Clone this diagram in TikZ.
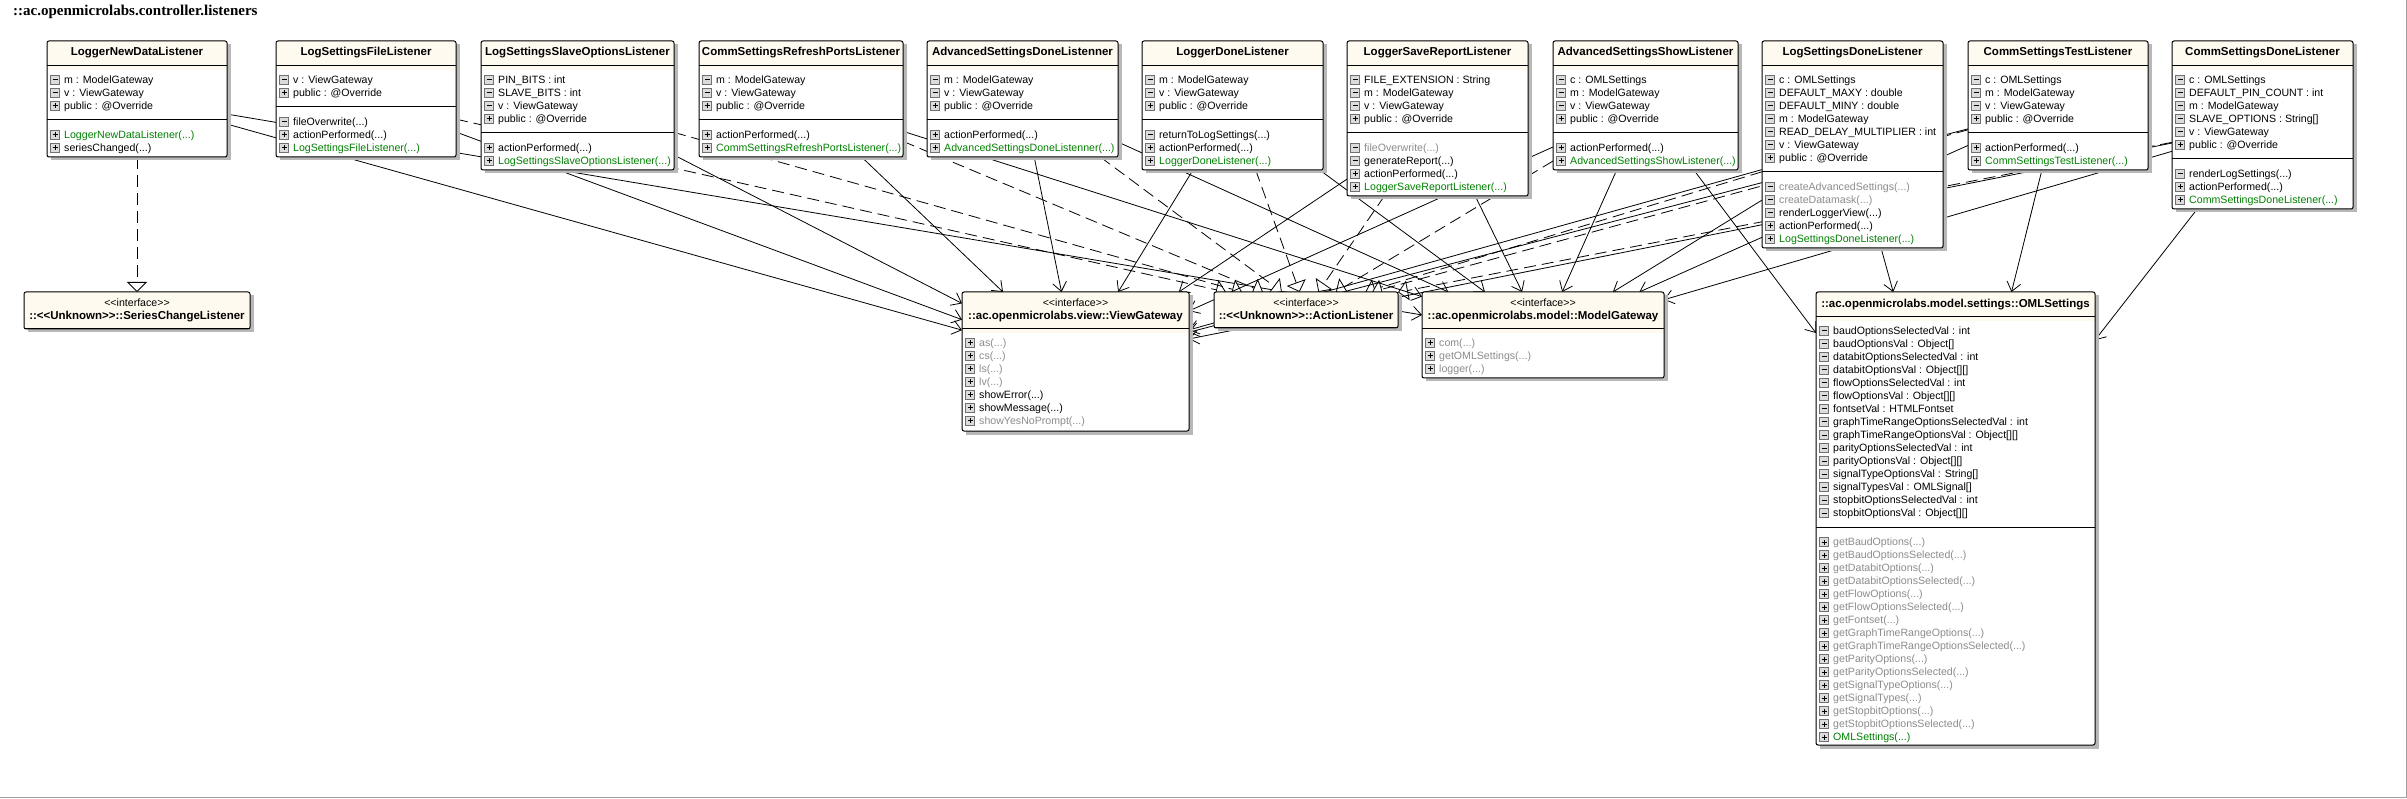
\documentclass[tikz,border=0pt]{standalone}
\usepackage{fontspec}
\setmainfont{Liberation Sans}
\newfontfamily\titlefam{Liberation Serif}
\usetikzlibrary{arrows.meta}
\pgfdeclarelayer{bg}
\pgfsetlayers{bg,main}
\definecolor{headc}{HTML}{FFFAEF}
\definecolor{shadowc}{HTML}{B8B8B8}
\definecolor{grn}{HTML}{008000}
\definecolor{gry}{HTML}{8C8C8C}
\definecolor{iconb}{HTML}{707070}
\definecolor{iconf}{HTML}{DCDCDC}
\definecolor{framec}{HTML}{A0A0A0}
\newcommand\dts{(...)}
\newcommand\intf{<{}<interface>{}>}
\newcommand\unk{<{}<Unknown>{}>}

\newcommand\cls[6]{% id x1 y1 x2 y2 div1
  \fill[shadowc] ({#2+3.5},{#3+3.5}) rectangle ({#4+3.5},{#5+3.5});
  \node[clsnode, minimum width=#4-#2, minimum height=#5-#3] (#1) at ({(#2+#4)/2},{(#3+#5)/2}) {};
  \fill[headc, rounded corners=2pt] (#2,#3) rectangle (#4,#6);
  \fill[headc] (#2,#6) rectangle (#4,{min(#6+4.5,#5)});
  \draw[line width=1pt] (#2,#6) -- (#4,#6);
  \draw[line width=1pt, rounded corners=2pt] (#2,#3) rectangle (#4,#5);
}
\newcommand\umlrow[5]{% x1 y type color text
  \draw[iconb, fill=iconf, line width=0.6pt] ({#1+3.5},{#2-4.5}) rectangle ({#1+12.5},{#2+4.5});
  \draw[line width=1pt] ({#1+5.5},{#2}) -- ({#1+10.5},{#2});
  \if p#3 \draw[line width=1pt] ({#1+8},{#2-2.5}) -- ({#1+8},{#2+2.5});\fi
  \node[bd, anchor=base west, text=#4] at ({#1+17},{#2+3.8}) {#5};
}
\newcommand\umlclass[8]{% id x1 x2 div2 bottom name attrs methods
  \cls{#1}{#2}{41}{#3}{#5}{65.5}
  \node[hd, anchor=base] at ({(#2+#3)/2},56) {#6};
  \foreach \ty/\co/\tx [count=\i from 0] in {#7} {\umlrow{#2}{80+13*\i}{\ty}{\co}{\tx}}
  \draw[line width=1pt] (#2,#4) -- (#3,#4);
  \foreach \ty/\co/\tx [count=\i from 0] in {#8} {\umlrow{#2}{#4+15+13*\i}{\ty}{\co}{\tx}}
}

\begin{document}
\begin{tikzpicture}[x=1pt,y=-1pt,
  clsnode/.style={rectangle, inner sep=0pt, outer sep=0pt, fill=white},
  hd/.style={font=\fontsize{11.5}{13}\selectfont\bfseries, inner sep=0pt},
  bd/.style={font=\fontsize{10.6}{12}\selectfont, inner sep=0pt},
  asc/.style={line width=0.8pt, -{Straight Barb[length=9pt,width=14pt]}},
  real/.style={line width=0.8pt, dash pattern=on 12pt off 6pt, -{Triangle[length=10pt,width=20pt,fill=white]}}]
\useasboundingbox (0,0) rectangle (2407,799);

\node[font=\titlefam\fontsize{15}{17}\selectfont\bfseries, anchor=base west, inner sep=0pt] (title) at (13,15.5) {::ac.openmicrolabs.controller.listeners};

% top row listeners
\umlclass{LND}{47}{227}{120}{157}{LoggerNewDataListener}
 {m/black/m : ModelGateway, m/black/v : ViewGateway, p/black/public : @Override}
 {p/grn/LoggerNewDataListener\dts, p/black/seriesChanged\dts}
\umlclass{LSF}{276}{456}{107}{157}{LogSettingsFileListener}
 {m/black/v : ViewGateway, p/black/public : @Override}
 {m/black/fileOverwrite\dts, p/black/actionPerformed\dts, p/grn/LogSettingsFileListener\dts}
\umlclass{LSS}{481}{674}{133}{170}{LogSettingsSlaveOptionsListener}
 {m/black/PIN\_BITS : int, m/black/SLAVE\_BITS : int, m/black/v : ViewGateway, p/black/public : @Override}
 {p/black/actionPerformed\dts, p/grn/LogSettingsSlaveOptionsListener\dts}
\umlclass{CRP}{699}{903}{120}{157}{CommSettingsRefreshPortsListener}
 {m/black/m : ModelGateway, m/black/v : ViewGateway, p/black/public : @Override}
 {p/black/actionPerformed\dts, p/grn/CommSettingsRefreshPortsListener\dts}
\umlclass{ASD}{927}{1118}{120}{157}{AdvancedSettingsDoneListenner}
 {m/black/m : ModelGateway, m/black/v : ViewGateway, p/black/public : @Override}
 {p/black/actionPerformed\dts, p/grn/AdvancedSettingsDoneListenner\dts}
\umlclass{LD}{1142}{1323}{120}{170}{LoggerDoneListener}
 {m/black/m : ModelGateway, m/black/v : ViewGateway, p/black/public : @Override}
 {m/black/returnToLogSettings\dts, p/black/actionPerformed\dts, p/grn/LoggerDoneListener\dts}
\umlclass{LSR}{1347}{1528}{133}{196}{LoggerSaveReportListener}
 {m/black/FILE\_EXTENSION : String, m/black/m : ModelGateway, m/black/v : ViewGateway, p/black/public : @Override}
 {m/gry/fileOverwrite\dts, m/black/generateReport\dts, p/black/actionPerformed\dts, p/grn/LoggerSaveReportListener\dts}
\umlclass{ASS}{1553}{1738}{133}{170}{AdvancedSettingsShowListener}
 {m/black/c : OMLSettings, m/black/m : ModelGateway, m/black/v : ViewGateway, p/black/public : @Override}
 {p/black/actionPerformed\dts, p/grn/AdvancedSettingsShowListener\dts}
\umlclass{LSD}{1762}{1943}{172}{248}{LogSettingsDoneListener}
 {m/black/c : OMLSettings, m/black/DEFAULT\_MAXY : double, m/black/DEFAULT\_MINY : double, m/black/m : ModelGateway, m/black/READ\_DELAY\_MULTIPLIER : int, m/black/v : ViewGateway, p/black/public : @Override}
 {m/gry/createAdvancedSettings\dts, m/gry/createDatamask\dts, m/black/renderLoggerView\dts, p/black/actionPerformed\dts, p/grn/LogSettingsDoneListener\dts}
\umlclass{CST}{1968}{2148}{133}{170}{CommSettingsTestListener}
 {m/black/c : OMLSettings, m/black/m : ModelGateway, m/black/v : ViewGateway, p/black/public : @Override}
 {p/black/actionPerformed\dts, p/grn/CommSettingsTestListener\dts}
\umlclass{CSD}{2172}{2353}{159}{209}{CommSettingsDoneListener}
 {m/black/c : OMLSettings, m/black/DEFAULT\_PIN\_COUNT : int, m/black/m : ModelGateway, m/black/SLAVE\_OPTIONS : String[], m/black/v : ViewGateway, p/black/public : @Override}
 {m/black/renderLogSettings\dts, p/black/actionPerformed\dts, p/grn/CommSettingsDoneListener\dts}

% interfaces and target classes
\cls{SCL}{24}{292}{250}{329}{329}
\node[bd, anchor=base] at (137,306.5) {\intf};
\node[hd, anchor=base] at (137,319.5) {::\unk::SeriesChangeListener};

\cls{VG}{962}{292}{1189}{431}{329}
\node[bd, anchor=base] at (1075.5,306.5) {\intf};
\node[hd, anchor=base] at (1075.5,319.5) {::ac.openmicrolabs.view::ViewGateway};
\foreach \ty/\co/\tx [count=\i from 0] in {p/gry/as\dts, p/gry/cs\dts, p/gry/ls\dts, p/gry/lv\dts, p/black/showError\dts, p/black/showMessage\dts, p/gry/showYesNoPrompt\dts}
  {\umlrow{962}{343+13*\i}{\ty}{\co}{\tx}}

\cls{AL}{1214}{292}{1398}{328}{328}
\node[bd, anchor=base] at (1306,306.5) {\intf};
\node[hd, anchor=base] at (1306,319.5) {::\unk::ActionListener};

\cls{MG}{1422}{292}{1664}{378}{329}
\node[bd, anchor=base] at (1543,306.5) {\intf};
\node[hd, anchor=base] at (1543,319.5) {::ac.openmicrolabs.model::ModelGateway};
\foreach \ty/\co/\tx [count=\i from 0] in {p/gry/com\dts, p/gry/getOMLSettings\dts, p/gry/logger\dts}
  {\umlrow{1422}{343+13*\i}{\ty}{\co}{\tx}}

\cls{OML}{1816}{292}{2095}{745}{317}
\node[hd, anchor=base] at (1955.5,307.5) {::ac.openmicrolabs.model.settings::OMLSettings};
\foreach \tx [count=\i from 0] in {baudOptionsSelectedVal : int, baudOptionsVal : Object[], databitOptionsSelectedVal : int, databitOptionsVal : Object[][], flowOptionsSelectedVal : int, flowOptionsVal : Object[][], fontsetVal : HTMLFontset, graphTimeRangeOptionsSelectedVal : int, graphTimeRangeOptionsVal : Object[][], parityOptionsSelectedVal : int, parityOptionsVal : Object[][], signalTypeOptionsVal : String[], signalTypesVal : OMLSignal[], stopbitOptionsSelectedVal : int, stopbitOptionsVal : Object[][]}
  {\umlrow{1816}{331+13*\i}{m}{black}{\tx}}
\draw[line width=1pt] (1816,527) -- (2095,527);
\foreach \ty/\co/\tx [count=\i from 0] in {p/gry/getBaudOptions\dts, p/gry/getBaudOptionsSelected\dts, p/gry/getDatabitOptions\dts, p/gry/getDatabitOptionsSelected\dts, p/gry/getFlowOptions\dts, p/gry/getFlowOptionsSelected\dts, p/gry/getFontset\dts, p/gry/getGraphTimeRangeOptions\dts, p/gry/getGraphTimeRangeOptionsSelected\dts, p/gry/getParityOptions\dts, p/gry/getParityOptionsSelected\dts, p/gry/getSignalTypeOptions\dts, p/gry/getSignalTypes\dts, p/gry/getStopbitOptions\dts, p/gry/getStopbitOptionsSelected\dts, p/grn/OMLSettings\dts}
  {\umlrow{1816}{542+13*\i}{\ty}{\co}{\tx}}

% frame edges
\draw[framec, line width=1.5pt] (0,797.5) -- (2406.5,797.5) -- (2406.5,0);

% connectors behind the boxes
\begin{pgfonlayer}{bg}
\fill[white] (0,0) rectangle (2407,799);
\draw[real] (LND) -- (SCL);
\draw[asc] (LND) -- (MG);
\draw[asc] (LND) -- (VG);
\foreach \s in {LSF,LSS,CRP,ASD,LD,LSR,ASS,LSD,CST,CSD} {\draw[real] (\s) -- (AL); \draw[asc] (\s) -- (VG);}
\foreach \s in {CRP,ASD,LD,LSR,ASS,LSD,CST,CSD} {\draw[asc] (\s) -- (MG);}
\foreach \s in {ASS,LSD,CST,CSD} {\draw[asc] (\s) -- (OML);}
\end{pgfonlayer}
\end{tikzpicture}
\end{document}
